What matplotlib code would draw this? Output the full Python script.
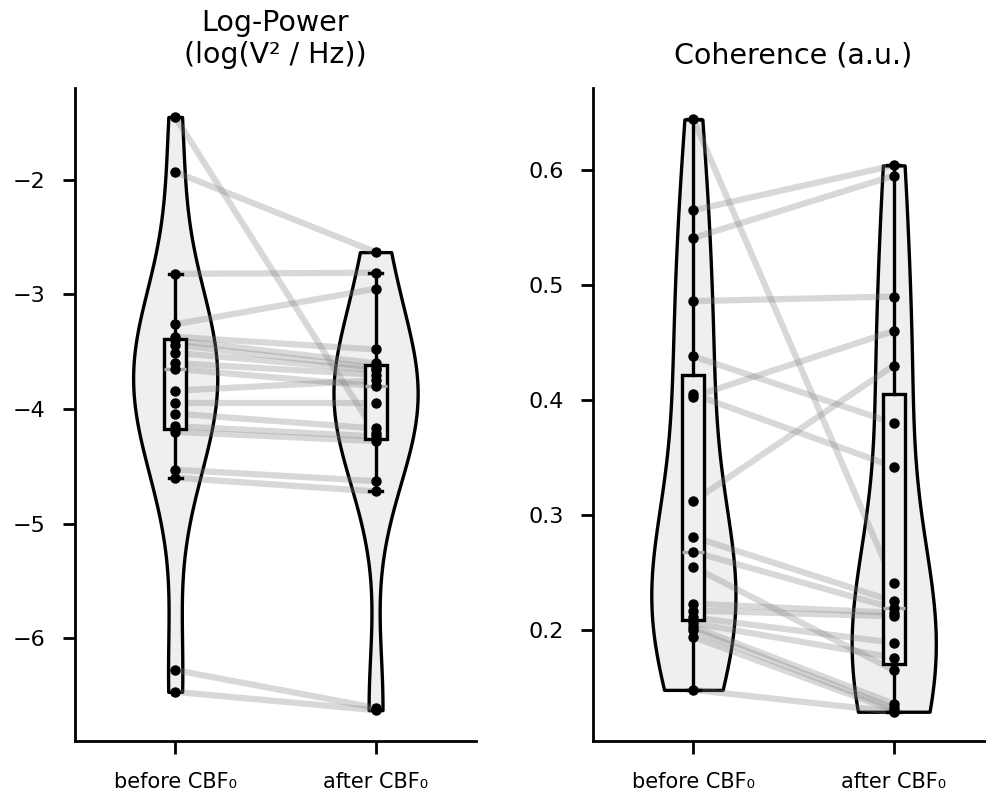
import numpy as np
import matplotlib.pyplot as plt

labels = ['before CBF\u2080', 'after CBF\u2080']

# log-power, paired by subject
power_before = [-1.45, -1.93, -2.82, -3.26, -3.37, -3.40, -3.44, -3.51, -3.60, -3.65,
                -3.84, -3.95, -4.04, -4.15, -4.20, -4.53, -4.60, -6.28, -6.47]
power_after = [-4.21, -2.63, -2.81, -2.95, -3.48, -3.60, -3.64, -3.66, -3.70, -3.80,
               -3.75, -3.95, -4.17, -4.24, -4.28, -4.63, -4.72, -6.61, -6.63]

# coherence, paired by subject
coh_before = [0.644, 0.565, 0.541, 0.486, 0.438, 0.405, 0.403, 0.312, 0.281, 0.268,
              0.255, 0.223, 0.217, 0.211, 0.206, 0.203, 0.200, 0.194, 0.148]
coh_after = [0.241, 0.604, 0.595, 0.490, 0.380, 0.342, 0.460, 0.430, 0.225, 0.219,
             0.165, 0.215, 0.212, 0.189, 0.176, 0.136, 0.132, 0.130, 0.129]


def paired_violin(ax, before, after, title):
    data = [before, after]
    pos = [1, 2]

    parts = ax.violinplot(data, positions=pos, widths=0.42, showextrema=False)
    for body in parts['bodies']:
        body.set_facecolor('#efefef')
        body.set_edgecolor('black')
        body.set_linewidth(2.4)
        body.set_alpha(1)
        body.set_zorder(1)

    # subject lines
    for b, a in zip(before, after):
        ax.plot(pos, [b, a], color='grey', alpha=0.3, lw=4.5, zorder=2)

    ax.boxplot(data, positions=pos, widths=0.11, showfliers=False, patch_artist=True,
               boxprops=dict(facecolor='#efefef', edgecolor='black', linewidth=2.4),
               whiskerprops=dict(color='black', linewidth=2.4),
               capprops=dict(color='black', linewidth=2.4),
               medianprops=dict(color='#aaaaaa', linewidth=2.4),
               capwidths=0.065, zorder=3)

    for p, d in zip(pos, data):
        ax.plot(np.full(len(d), p), d, 'o', color='black', ms=6.5, zorder=4)

    ax.set_xlim(0.5, 2.5)
    ax.set_xticks(pos)
    ax.set_xticklabels(labels, fontsize=15)
    ax.tick_params(axis='y', labelsize=16, pad=12)
    ax.tick_params(width=2, length=9)
    ax.tick_params(axis='x', pad=13)
    ax.spines['top'].set_visible(False)
    ax.spines['right'].set_visible(False)
    ax.spines['left'].set_linewidth(2)
    ax.spines['bottom'].set_linewidth(2)
    ax.set_title(title, fontsize=20.5, pad=18)


fig = plt.figure(figsize=(9.87, 7.96), dpi=100)
ax1 = fig.add_axes([0.076, 0.069, 0.406, 0.820])
ax2 = fig.add_axes([0.601, 0.069, 0.406, 0.820])

paired_violin(ax1, power_before, power_after, 'Log-Power\n(log(V\u00b2 / Hz))')
ax1.set_ylim(-6.90, -1.20)
ax1.set_yticks([-6, -5, -4, -3, -2])

paired_violin(ax2, coh_before, coh_after, 'Coherence (a.u.)')
ax2.set_ylim(0.1035, 0.671)
ax2.set_yticks([0.2, 0.3, 0.4, 0.5, 0.6])

fig.savefig('out.png', dpi=100)
